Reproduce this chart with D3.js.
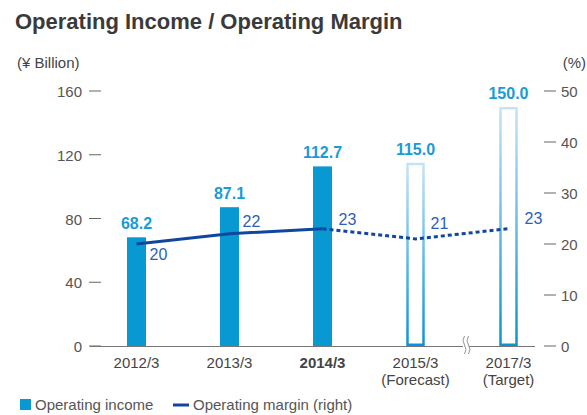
<!DOCTYPE html>
<html>
<head>
<meta charset="utf-8">
<script src="https://cdn.jsdelivr.net/npm/d3@7"></script>
<style>
  body { margin: 0; background: #fff; }
  svg { font-family: "Liberation Sans", Arial, sans-serif; }
</style>
</head>
<body>
<svg id="chart" width="587" height="415"></svg>
<script>
const categories = ['2012/3', '2013/3', '2014/3', '2015/3', '2017/3']
const subLabels = ['', '', '', '(Forecast)', '(Target)']
const income = [68.2, 87.1, 112.7, 115.0, 150.0]
const margin = [20, 22, 23, 21, 23]
const planned = [false, false, false, true, true]
const leftTicks = [0, 40, 80, 120, 160]
const rightTicks = [0, 10, 20, 30, 40, 50]
// where each margin label sits relative to its point (dx, dy of baseline)
const marginLabelPos = [[13, 16], [13, -7], [16, -4], [15, -10], [16, -5]]

const svg = d3.select('#chart')
const x = d3.scalePoint().domain(categories).range([90, 555]).padding(0.5)
const yL = d3.scaleLinear().domain([0, 160]).range([346, 91])
const yR = d3.scaleLinear().domain([0, 50]).range([346, 91])
const barW = 19
const blue = '#0899d3'
const navy = '#0f469f'

const defs = svg.append('defs')
const grad = defs.append('linearGradient').attr('id', 'outl').attr('x1', 0).attr('x2', 0).attr('y1', 0).attr('y2', 1)
grad.append('stop').attr('offset', '0%').attr('stop-color', '#c5e3f6')
grad.append('stop').attr('offset', '100%').attr('stop-color', '#0a95d2')

// title
svg.append('text').attr('x', 15).attr('y', 29).attr('font-size', 22).attr('font-weight', 'bold')
  .attr('fill', '#3a3a3a').text('Operating Income / Operating Margin')
svg.append('text').attr('x', 17).attr('y', 68).attr('font-size', 15).attr('fill', '#444').text('(¥ Billion)')
svg.append('text').attr('x', 586).attr('y', 68).attr('font-size', 15).attr('fill', '#444')
  .attr('text-anchor', 'end').text('(%)')

// left axis
const gl = svg.append('g')
gl.selectAll('line').data(leftTicks).join('line')
  .attr('x1', 89).attr('x2', 101).attr('y1', d => yL(d)).attr('y2', d => yL(d))
  .attr('stroke', '#666').attr('stroke-width', 1)
gl.selectAll('text').data(leftTicks).join('text')
  .attr('x', 82).attr('y', d => yL(d) + 6).attr('text-anchor', 'end')
  .attr('font-size', 15).attr('fill', '#555').text(d => d)

// right axis
const gr = svg.append('g')
gr.selectAll('line').data(rightTicks).join('line')
  .attr('x1', 544).attr('x2', 556).attr('y1', d => yR(d)).attr('y2', d => yR(d))
  .attr('stroke', '#666').attr('stroke-width', 1)
gr.selectAll('text').data(rightTicks).join('text')
  .attr('x', 561).attr('y', d => yR(d) + 6)
  .attr('font-size', 15).attr('fill', '#555').text(d => d)

// bars
const data = categories.map((c, i) => ({ c, v: income[i], m: margin[i], p: planned[i], sub: subLabels[i], lp: marginLabelPos[i] }))
svg.append('g').selectAll('rect').data(data).join('rect')
  .attr('x', d => x(d.c) - barW / 2 + (d.p ? 1.5 : 0))
  .attr('y', d => yL(d.v) + (d.p ? 1.25 : 0))
  .attr('width', d => barW - (d.p ? 3 : 0))
  .attr('height', d => yL(0) - yL(d.v) - (d.p ? 2.5 : 0))
  .attr('fill', d => d.p ? '#fff' : blue)
  .attr('stroke', d => d.p ? 'url(#outl)' : 'none')
  .attr('stroke-width', 2.5)

// baseline
svg.append('line').attr('x1', 90).attr('x2', 535).attr('y1', 346.5).attr('y2', 346.5)
  .attr('stroke', '#777').attr('stroke-width', 1)

// break mark
const bx = (x('2015/3') + x('2017/3')) / 2 + 4
svg.append('rect').attr('x', bx - 3).attr('y', 337).attr('width', 6).attr('height', 17).attr('fill', '#fff')
;[-2.5, 1.5].forEach(o => {
  svg.append('path')
    .attr('d', `M${bx + o + 1},336 q-3,4.5 0,9 q3,4.5 0,9`)
    .attr('fill', 'none').attr('stroke', '#888').attr('stroke-width', 0.9)
})

// value labels
svg.append('g').selectAll('text').data(data).join('text')
  .attr('x', d => x(d.c)).attr('y', d => yL(d.v) - 8).attr('text-anchor', 'middle')
  .attr('font-size', 16).attr('font-weight', 'bold').attr('fill', '#1a9bd7').text(d => d.v.toFixed(1))

// margin line
const line = d3.line().x(d => x(d.c)).y(d => yR(d.m))
svg.append('path').datum(data.slice(0, 3)).attr('d', line)
  .attr('fill', 'none').attr('stroke', navy).attr('stroke-width', 3)
svg.append('path').datum(data.slice(2)).attr('d', line)
  .attr('fill', 'none').attr('stroke', navy).attr('stroke-width', 3).attr('stroke-dasharray', '4,3')

svg.append('g').selectAll('text').data(data).join('text')
  .attr('x', d => x(d.c) + d.lp[0]).attr('y', d => yR(d.m) + d.lp[1])
  .attr('font-size', 16).attr('fill', '#2c5fb3').text(d => d.m)

// x labels
const gx = svg.append('g')
gx.selectAll('text.cat').data(data).join('text').attr('class', 'cat')
  .attr('x', d => x(d.c)).attr('y', 368).attr('text-anchor', 'middle')
  .attr('font-size', 15).attr('fill', '#444')
  .attr('font-weight', d => d.c === '2014/3' ? 'bold' : 'normal').text(d => d.c)
gx.selectAll('text.sub').data(data.filter(d => d.sub)).join('text').attr('class', 'sub')
  .attr('x', d => x(d.c)).attr('y', 385).attr('text-anchor', 'middle')
  .attr('font-size', 15).attr('fill', '#444').text(d => d.sub)

// legend
const lg = svg.append('g')
lg.append('rect').attr('x', 20).attr('y', 399).attr('width', 11).attr('height', 11).attr('fill', blue)
lg.append('text').attr('x', 35).attr('y', 410).attr('font-size', 15).attr('fill', '#555').text('Operating income')
lg.append('line').attr('x1', 173).attr('x2', 189).attr('y1', 405).attr('y2', 405).attr('stroke', navy).attr('stroke-width', 3)
lg.append('text').attr('x', 193).attr('y', 410).attr('font-size', 15).attr('fill', '#555').text('Operating margin (right)')
</script>
</body>
</html>
